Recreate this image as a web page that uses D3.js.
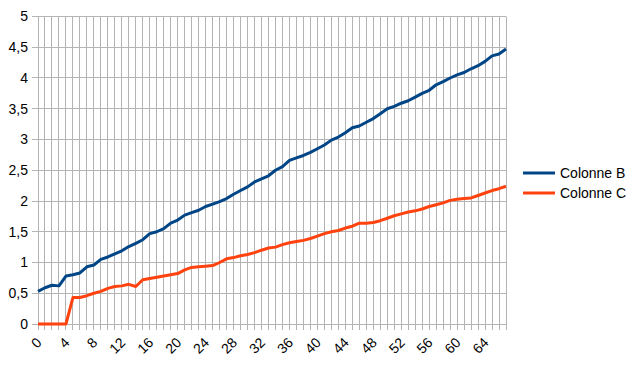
<!DOCTYPE html>
<html>
<head>
<meta charset="utf-8">
<script src="https://cdn.jsdelivr.net/npm/d3@7"></script>
<style>
  html, body { margin: 0; padding: 0; background: #fff; }
  svg { display: block; }
  text { font-family: "Liberation Sans", Arial, sans-serif; fill: #000; }
</style>
</head>
<body>
<svg id="chart" width="643" height="372"></svg>
<script>
const categories = d3.range(0, 68);
const seriesNames = ["Colonne B", "Colonne C"];
const colonneB = [
  0.53, 0.59, 0.63, 0.62, 0.78, 0.80, 0.83, 0.93, 0.96, 1.05,
  1.09, 1.14, 1.19, 1.26, 1.31, 1.37, 1.47, 1.50, 1.55, 1.64,
  1.69, 1.77, 1.81, 1.85, 1.91, 1.95, 1.99, 2.04, 2.11, 2.17,
  2.23, 2.31, 2.36, 2.41, 2.50, 2.56, 2.66, 2.70, 2.74, 2.79,
  2.85, 2.91, 2.99, 3.04, 3.11, 3.19, 3.22, 3.28, 3.34, 3.42,
  3.50, 3.54, 3.59, 3.63, 3.69, 3.75, 3.80, 3.89, 3.94, 4.00,
  4.05, 4.09, 4.15, 4.20, 4.27, 4.36, 4.39, 4.47
];
const colonneC = [
  0, 0, 0, 0, 0, 0.43, 0.43, 0.46, 0.50, 0.53,
  0.58, 0.61, 0.62, 0.645, 0.61, 0.72, 0.74, 0.76, 0.78, 0.80,
  0.82, 0.88, 0.92, 0.93, 0.94, 0.95, 1.00, 1.06, 1.08, 1.11,
  1.13, 1.16, 1.20, 1.235, 1.25, 1.29, 1.32, 1.34, 1.36, 1.39,
  1.43, 1.47, 1.50, 1.52, 1.56, 1.59, 1.64, 1.64, 1.65, 1.68,
  1.72, 1.76, 1.79, 1.82, 1.84, 1.87, 1.91, 1.94, 1.97, 2.01,
  2.03, 2.04, 2.05, 2.09, 2.13, 2.17, 2.20, 2.24
];
const yTicks = [0, 0.5, 1, 1.5, 2, 2.5, 3, 3.5, 4, 4.5, 5];
const xTickLabels = d3.range(0, 68, 4);
const colors = ["#004586", "#ff420e"];

(function () {
  const svg = d3.select("#chart");
  const pLeft = 38, pRight = 506, pTop = 16.5, pBottom = 324;
  const x = d3.scalePoint().domain(categories).range([pLeft, pRight]);
  const y = d3.scaleLinear().domain([0, 5]).range([pBottom, pTop]);
  const fmt = v => String(v).replace(".", ",");
  const crisp = v => Math.round(v) + 0.5;
  const grid = "#b3b3b3";

  svg.append("g").selectAll("line").data(yTicks).join("line")
    .attr("x1", pLeft - 6).attr("x2", pRight)
    .attr("y1", d => crisp(y(d) - 0.5)).attr("y2", d => crisp(y(d) - 0.5))
    .attr("stroke", grid).attr("stroke-width", 1);

  svg.append("g").selectAll("line").data(categories).join("line")
    .attr("x1", d => crisp(x(d) - 0.5)).attr("x2", d => crisp(x(d) - 0.5))
    .attr("y1", pTop).attr("y2", pBottom + 6)
    .attr("stroke", grid).attr("stroke-width", 1);

  svg.append("g").selectAll("text").data(yTicks).join("text")
    .attr("x", 28).attr("y", d => y(d)).attr("dy", "0.35em")
    .attr("text-anchor", "end").style("font-size", "14px")
    .text(fmt);

  svg.append("g").selectAll("text").data(xTickLabels).join("text")
    .attr("transform", d => `translate(${x(d) + 1},340) rotate(-45)`)
    .attr("dy", "0.35em")
    .attr("text-anchor", "end").style("font-size", "14px")
    .text(d => d);

  const line = d3.line().x((d, i) => x(categories[i])).y(d => y(d));
  [colonneB, colonneC].forEach((s, k) => {
    svg.append("path").datum(s)
      .attr("d", line)
      .attr("fill", "none")
      .attr("stroke", colors[k])
      .attr("stroke-width", 3)
      .attr("stroke-linejoin", "round");
  });

  const lg = svg.append("g");
  seriesNames.forEach((n, k) => {
    const ly = 173 + k * 20;
    lg.append("line").attr("x1", 523).attr("x2", 555).attr("y1", ly).attr("y2", ly)
      .attr("stroke", colors[k]).attr("stroke-width", 3);
    lg.append("text").attr("x", 560).attr("y", ly).attr("dy", "0.35em")
      .style("font-size", "14px").text(n);
  });
})();
</script>
</body>
</html>
